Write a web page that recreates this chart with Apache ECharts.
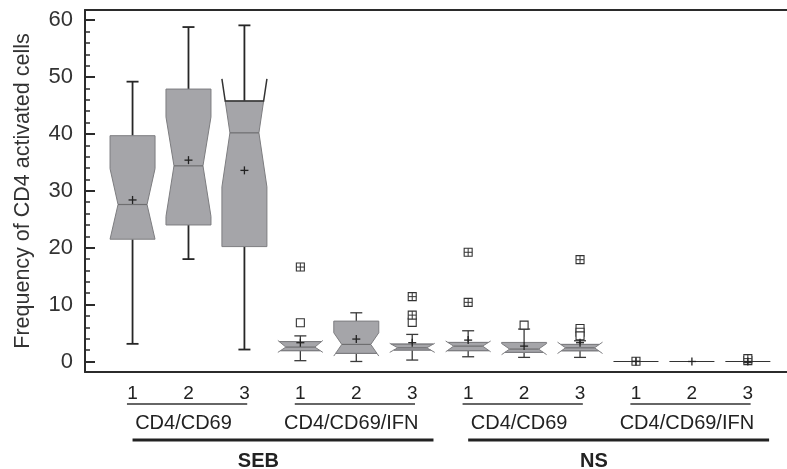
<!DOCTYPE html>
<html><head><meta charset="utf-8">
<script src="https://cdn.jsdelivr.net/npm/echarts@6/dist/echarts.min.js"></script>
<style>html,body{margin:0;padding:0;background:#fff}#c{width:787px;height:469px}</style>
</head><body><div id="c"></div>
<script>
// ---- data ----
const tickLabels = ['1','2','3','1','2','3','1','2','3','1','2','3'];
const whiskerLow  = [3.1, 18.0, 2.1, 0.14, 0.0, 0.25, 0.83, 0.72, 0.72, 0, 0, 0];
const q1          = [21.5, 24.0, 20.2, 1.9, 1.42, 2.0, 1.9, 1.6, 1.88, 0, 0, 0];
const median      = [27.6, 34.4, 40.2, 2.53, 3.0, 2.4, 2.7, 2.18, 2.4, 0, 0, 0];
const q3          = [39.7, 47.9, 45.8, 3.5, 7.1, 3.06, 3.35, 3.35, 3.0, 0, 0, 0];
const whiskerHigh = [49.2, 58.8, 59.1, 4.5, 8.56, 4.76, 5.4, 5.7, 3.64, 0, 0, 0];
const notchLow    = [21.5, 25.5, 30.7, 1.6, 0.95, 1.6, 1.7, 1.2, 1.4, 0, 0, 0];
const notchHigh   = [33.9, 43.0, 49.7, 3.7, 5.05, 3.2, 3.6, 3.16, 3.4, 0, 0, 0];
const means       = [28.4, 35.4, 33.6, 3.3, 3.94, 3.3, 3.76, 2.7, 3.3, 0, 0, 0];
const nearOutliers = [[],[],[],[6.8],[],[6.87],[],[6.4],[5.8,5.15,4.5],[],[],[]];
const farOutliers  = [[],[],[],[16.6],[],[11.4,8.15],[19.2,10.4],[],[17.9],[0.05],[],[0.15,0.5]];
const subGroups = ['CD4/CD69','CD4/CD69/IFN','CD4/CD69','CD4/CD69/IFN'];
const subGroupStart = [1, 4, 7, 10];
const topGroups = ['SEB','NS'];
const topGroupStart = [1, 7];
const yTicks = [0,10,20,30,40,50,60];
const yMinorTicks = [2,4,6,8,12,14,16,18,22,24,26,28,32,34,36,38,42,44,46,48,52,54,56,58];

const FONT = '"Liberation Sans", Arial, Helvetica, sans-serif';
const TXT = '#222';
const AX = '#2b2b2b';

function renderBox(params, api) {
  const i = params.dataIndex;
  const x = i + 1;
  const cx = api.coord([x, 0])[0];
  const Y = v => api.coord([x, v])[1];
  const hw = 22.5, ind = 8;
  const ch = [];
  const fill = '#a5a5a9', edge = '#7d7d80', dark = '#262626';
  if (q3[i] === q1[i] && whiskerHigh[i] === whiskerLow[i]) {
    ch.push({type:'line', shape:{x1:cx-hw, y1:Y(median[i]), x2:cx+hw, y2:Y(median[i])}, style:{stroke:'#333', lineWidth:1.2}});
  } else {
    const med = median[i], nHi = notchHigh[i], nLo = notchLow[i];
    const off = v => {
      if (v >= med) return v < nHi ? ind * (nHi - v) / (nHi - med) : 0;
      return v > nLo ? ind * (v - nLo) / (med - nLo) : 0;
    };
    const keys = [q3[i]];
    if (nHi < q3[i]) keys.push(nHi);
    keys.push(med);
    if (nLo > q1[i]) keys.push(nLo);
    keys.push(q1[i]);
    const pts = [];
    keys.forEach(v => pts.push([cx - hw + off(v), Y(v)]));
    keys.slice().reverse().forEach(v => pts.push([cx + hw - off(v), Y(v)]));
    const big = whiskerHigh[i] > 20;
    const wcol = big ? dark : '#3a3a3a';
    const wlw = big ? 1.8 : 1.3;
    ch.push({type:'line', shape:{x1:cx, y1:Y(q3[i]), x2:cx, y2:Y(whiskerHigh[i])}, style:{stroke:wcol, lineWidth:wlw}});
    ch.push({type:'line', shape:{x1:cx-6, y1:Y(whiskerHigh[i]), x2:cx+6, y2:Y(whiskerHigh[i])}, style:{stroke:wcol, lineWidth:wlw}});
    ch.push({type:'line', shape:{x1:cx, y1:Y(q1[i]), x2:cx, y2:Y(whiskerLow[i])}, style:{stroke:wcol, lineWidth:wlw}});
    ch.push({type:'line', shape:{x1:cx-6, y1:Y(whiskerLow[i]), x2:cx+6, y2:Y(whiskerLow[i])}, style:{stroke:wcol, lineWidth:wlw}});
    ch.push({type:'polygon', shape:{points:pts}, style:{fill:fill, stroke:edge, lineWidth:1}});
    if (nHi > q3[i]) {
      const o = off(q3[i]);
      ch.push({type:'polyline', shape:{points:[[cx-hw, Y(nHi)],[cx-hw+o, Y(q3[i])],[cx+hw-o, Y(q3[i])],[cx+hw, Y(nHi)]]}, style:{stroke: big ? '#333' : edge, lineWidth: big ? 1.5 : 1, fill:null}});
    }
    if (nLo < q1[i]) {
      const o = off(q1[i]);
      ch.push({type:'polyline', shape:{points:[[cx-hw, Y(nLo)],[cx-hw+o, Y(q1[i])],[cx+hw-o, Y(q1[i])],[cx+hw, Y(nLo)]]}, style:{stroke: edge, lineWidth:1, fill:null}});
    }
    ch.push({type:'line', shape:{x1:cx-hw+ind, y1:Y(med), x2:cx+hw-ind, y2:Y(med)}, style:{stroke:'#6e6e70', lineWidth:1.2}});
  }
  const sq = 4;
  nearOutliers[i].forEach(v => {
    const yy = Y(v);
    ch.push({type:'rect', shape:{x:cx-sq, y:yy-sq, width:2*sq, height:2*sq}, style:{fill:'#fff', stroke:'#333', lineWidth:1.1}});
  });
  farOutliers[i].forEach(v => {
    const yy = Y(v);
    ch.push({type:'rect', shape:{x:cx-sq, y:yy-sq, width:2*sq, height:2*sq}, style:{fill:'#fff', stroke:'#333', lineWidth:1.1}});
    ch.push({type:'line', shape:{x1:cx-sq, y1:yy, x2:cx+sq, y2:yy}, style:{stroke:'#333', lineWidth:1}});
    ch.push({type:'line', shape:{x1:cx, y1:yy-sq, x2:cx, y2:yy+sq}, style:{stroke:'#333', lineWidth:1}});
  });
  const my = Y(means[i]);
  ch.push({type:'line', shape:{x1:cx-4, y1:my, x2:cx+4, y2:my}, style:{stroke:'#222', lineWidth:1.3}});
  ch.push({type:'line', shape:{x1:cx, y1:my-4, x2:cx, y2:my+4}, style:{stroke:'#222', lineWidth:1.3}});
  return {type:'group', children: ch};
}

function renderSub(params, api) {
  const i = params.dataIndex;
  const cs = params.coordSys;
  const base = cs.y + cs.height;
  const s = subGroupStart[i];
  const x1 = api.coord([s - 0.1, 0])[0];
  const x2 = api.coord([s + 2.05, 0])[0];
  const xm = api.coord([s + 1, 0])[0] - 5;
  return {type:'group', children:[
    {type:'line', shape:{x1:x1, y1:base+32, x2:x2, y2:base+32}, style:{stroke:'#333', lineWidth:1.5}},
    {type:'text', style:{text:subGroups[i], x:xm, y:base+51, align:'center', verticalAlign:'middle', font:'20px ' + FONT, fill:TXT}}
  ]};
}

function renderTop(params, api) {
  const i = params.dataIndex;
  const cs = params.coordSys;
  const base = cs.y + cs.height;
  const s = topGroupStart[i];
  const x1 = api.coord([s, 0])[0];
  const x2 = api.coord([s + 5.38, 0])[0];
  const xm = api.coord([s + 2.5, 0])[0] - 14;
  return {type:'group', children:[
    {type:'line', shape:{x1:x1, y1:base+68, x2:x2, y2:base+68}, style:{stroke:'#222', lineWidth:3}},
    {type:'text', style:{text:topGroups[i], x:xm, y:base+89, align:'center', verticalAlign:'middle', font:'bold 20px ' + FONT, fill:TXT}}
  ]};
}

const chart = echarts.init(document.getElementById('c'), null, {renderer:'canvas'});
chart.setOption({
  animation: false,
  backgroundColor: '#fff',
  grid: {left: 85, right: -3, top: 10, bottom: 97, containLabel: false},
  xAxis: [{
    type: 'value', min: 0.15, max: 12.70,
    axisLine: {show: true, onZero: false, lineStyle: {color: AX, width: 2}},
    axisTick: {show: false},
    splitLine: {show: false},
    axisLabel: {
      customValues: [1,2,3,4,5,6,7,8,9,10,11,12],
      formatter: v => tickLabels[Math.round(v) - 1],
      margin: 12, fontSize: 19, fontFamily: FONT, color: TXT
    }
  }, {
    type: 'value', min: 0.15, max: 12.70, position: 'top',
    axisLine: {show: true, onZero: false, lineStyle: {color: AX, width: 2}},
    axisTick: {show: false}, axisLabel: {show: false}, splitLine: {show: false}
  }],
  yAxis: [{
    type: 'value', min: -1.85, max: 61.8,
    axisLine: {show: true, onZero: false, lineStyle: {color: AX, width: 2}},
    axisTick: {show: true, inside: true, length: 10, customValues: yTicks, lineStyle: {color: AX, width: 2}},
    axisLabel: {customValues: yTicks, margin: 12, fontSize: 22, fontFamily: FONT, color: '#333'},
    splitLine: {show: false},
    name: 'Frequency of CD4 activated cells',
    nameLocation: 'middle', nameRotate: 90, nameGap: 51,
    nameTextStyle: {fontSize: 21.5, fontFamily: FONT, color: '#333'}
  }, {
    type: 'value', min: -1.85, max: 61.8, position: 'left',
    axisLine: {show: false},
    axisTick: {show: true, inside: true, length: 5, customValues: yMinorTicks, lineStyle: {color: AX, width: 1.5}},
    axisLabel: {show: false}, splitLine: {show: false}
  }],
  series: [{
    type: 'custom', name: 'boxes', xAxisIndex: 0, yAxisIndex: 0,
    renderItem: renderBox, clip: false,
    encode: {x: 0, y: 1},
    data: tickLabels.map((t, i) => [i + 1, median[i]])
  }, {
    type: 'custom', name: 'subgroups', xAxisIndex: 0, yAxisIndex: 0,
    renderItem: renderSub, clip: false, silent: true,
    encode: {x: 0, y: 1},
    data: subGroupStart.map(s => [s, 0])
  }, {
    type: 'custom', name: 'groups', xAxisIndex: 0, yAxisIndex: 0,
    renderItem: renderTop, clip: false, silent: true,
    encode: {x: 0, y: 1},
    data: topGroupStart.map(s => [s, 0])
  }]
});
</script></body></html>
